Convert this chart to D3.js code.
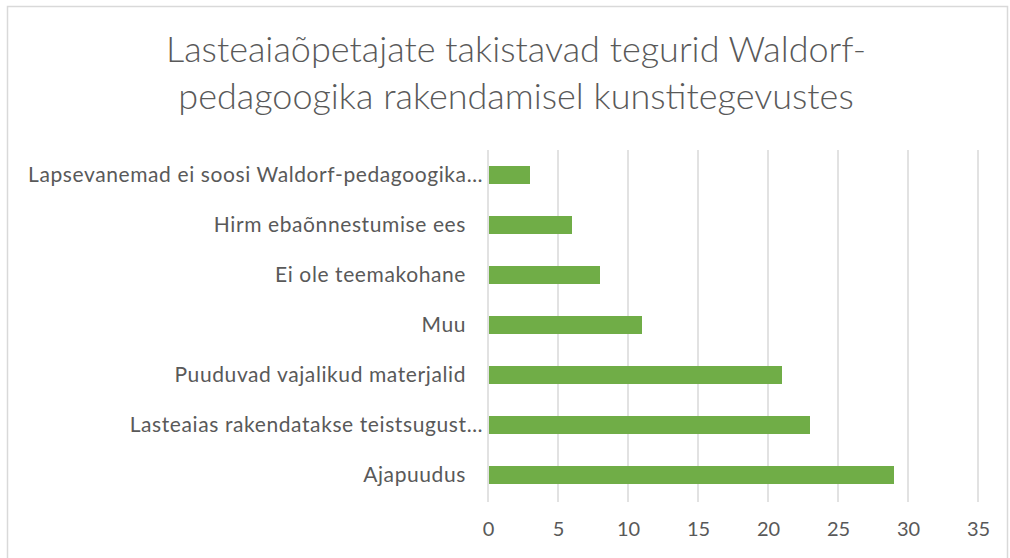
<!DOCTYPE html>
<html>
<head>
<meta charset="utf-8">
<script src="https://cdn.jsdelivr.net/npm/d3@7"></script>
<style>
  body { margin: 0; background: #fff; }
  text { font-family: Lato, "Open Sans", sans-serif; fill: #595959; }
</style>
</head>
<body>
<div id="chart"></div>
<script>
// andmed (ülevalt alla)
var categories = [
  "Lapsevanemad ei soosi Waldorf-pedagoogika…",
  "Hirm ebaõnnestumise ees",
  "Ei ole teemakohane",
  "Muu",
  "Puuduvad vajalikud materjalid",
  "Lasteaias rakendatakse teistsugust…",
  "Ajapuudus"
];
var values = [3, 6, 8, 11, 21, 23, 29];
var ticks = [0, 5, 10, 15, 20, 25, 30, 35];
var titleLines = ["Lasteaiaõpetajate takistavad tegurid Waldorf-", "pedagoogika rakendamisel kunstitegevustes"];

var w = 1010, h = 558;
var plotLeft = 488, plotRight = 978, plotTop = 150, plotBottom = 500;

var svg = d3.select("#chart").append("svg")
  .attr("width", w).attr("height", h);

// raam
svg.append("rect")
  .attr("x", 7.5).attr("y", 6.5)
  .attr("width", 1000).attr("height", 560)
  .attr("fill", "#fff").attr("stroke", "#d9d9d9").attr("stroke-width", 1.5);

// pealkiri
svg.selectAll(".title")
  .data(titleLines)
  .enter().append("text")
  .attr("class", "title")
  .attr("x", 516)
  .attr("y", function(d, i) { return 62 + i * 47; })
  .attr("text-anchor", "middle")
  .attr("font-size", "36px")
  .attr("font-weight", 300)
  .text(function(d) { return d; });

var x = d3.scaleLinear().domain([0, 35]).range([plotLeft, plotRight]);
var y = d3.scaleBand().domain(categories).range([plotTop, plotBottom]).paddingInner(0.64).paddingOuter(0.32);

// ruudustik
svg.selectAll(".grid")
  .data(ticks)
  .enter().append("line")
  .attr("class", "grid")
  .attr("x1", function(d) { return x(d); })
  .attr("x2", function(d) { return x(d); })
  .attr("y1", plotTop).attr("y2", plotBottom + 2)
  .attr("stroke", "#d9d9d9").attr("stroke-width", 1.5);

// tulbad
svg.selectAll(".bar")
  .data(values)
  .enter().append("rect")
  .attr("class", "bar")
  .attr("x", x(0) + 1)
  .attr("y", function(d, i) { return y(categories[i]); })
  .attr("width", function(d) { return x(d) - x(0) - 1; })
  .attr("height", y.bandwidth())
  .attr("fill", "#70ad47");

// x telg
var xAxis = d3.axisBottom(x).tickValues(ticks).tickSize(0).tickPadding(0);
var gx = svg.append("g").attr("transform", "translate(0," + (plotBottom + 22) + ")").call(xAxis);
gx.select(".domain").remove();
gx.selectAll("text").attr("font-size", "20px").attr("dy", "0.71em").style("font-family", "Lato, sans-serif").attr("fill", "#595959");

// y telg
var yAxis = d3.axisLeft(y).tickSize(0).tickPadding(0);
var gy = svg.append("g").attr("transform", "translate(466,0)").call(yAxis);
gy.select(".domain").remove();
gy.selectAll("text")
  .attr("font-size", "21px")
  .attr("letter-spacing", "0.6px")
  .style("font-family", "Lato, sans-serif")
  .attr("fill", "#595959")
  .attr("x", function(d) { return d.slice(-1) == "…" ? 17 : 0; });
</script>
</body>
</html>
